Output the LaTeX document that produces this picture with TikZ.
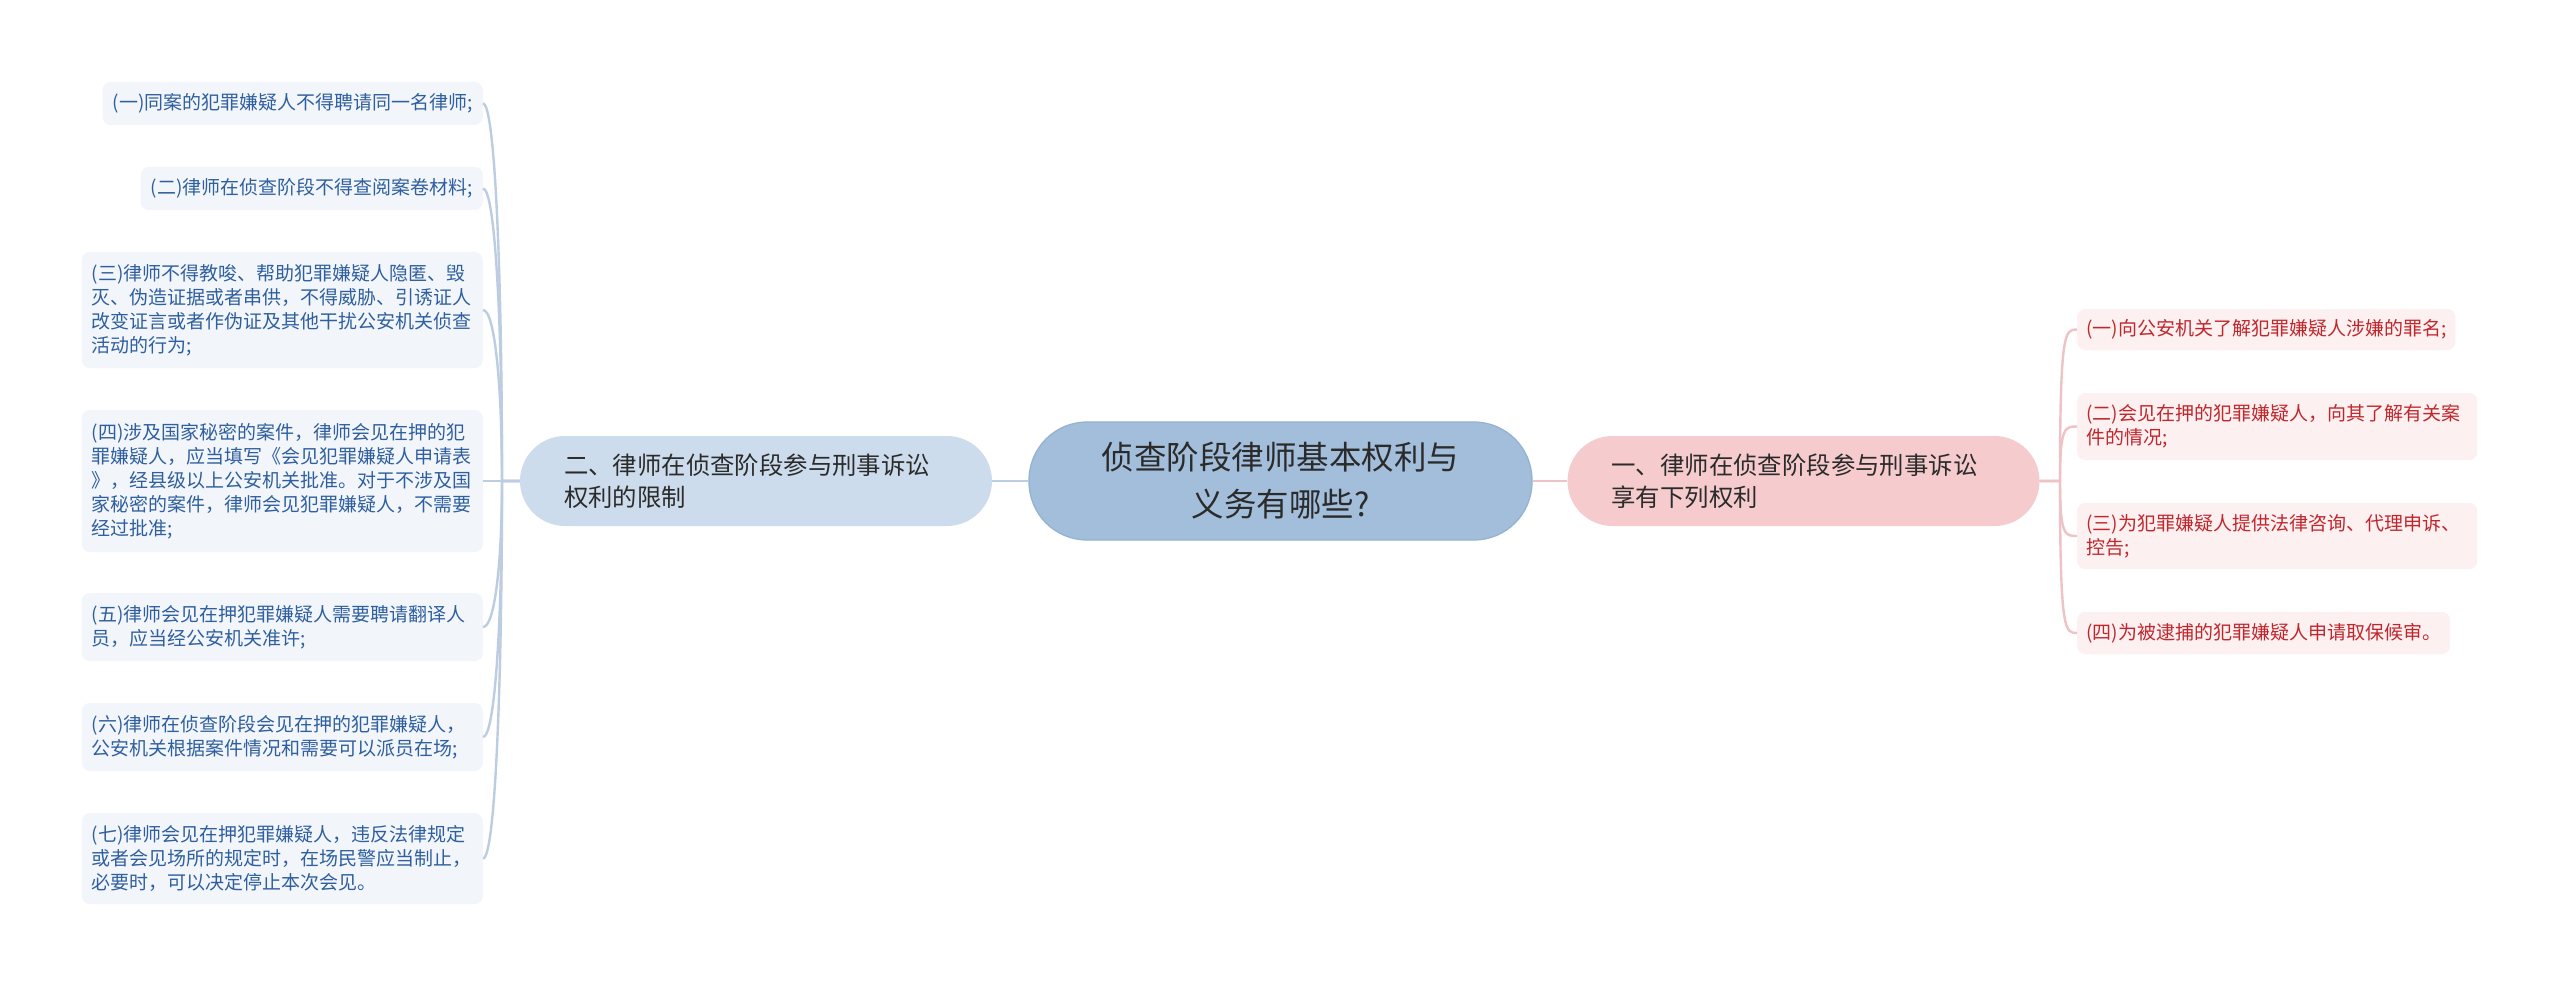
\documentclass[tikz,border=0pt]{standalone}
\usepackage{fontspec}
\setmainfont{Noto Sans CJK SC}
\usetikzlibrary{calc}
\definecolor{lleaffill}{HTML}{F2F6FB}
\definecolor{lleaftext}{HTML}{2F5F9E}
\definecolor{rleaffill}{HTML}{FCF0F0}
\definecolor{rleaftext}{HTML}{BF272D}
\definecolor{lmidfill}{HTML}{CCDCEC}
\definecolor{rmidfill}{HTML}{F5CBCD}
\definecolor{ctrfill}{HTML}{A2BEDA}
\definecolor{ctrdraw}{HTML}{93B1D1}
\definecolor{darktext}{HTML}{2B2B2B}
\definecolor{lline}{HTML}{BDCDE1}
\definecolor{rline}{HTML}{EEC3C6}
\begin{document}
\begin{tikzpicture}[x=1pt,y=-1pt,
  leafL/.style={fill=lleaffill, text=lleaftext, rounded corners=8pt,
    font=\fontsize{19}{24}\selectfont, inner xsep=10pt, inner ysep=0pt, align=left, anchor=east},
  leafR/.style={fill=rleaffill, text=rleaftext, rounded corners=8pt,
    font=\fontsize{19}{24}\selectfont, inner xsep=9pt, inner ysep=0pt, align=left, anchor=west},
  midnode/.style={rounded corners=45pt, minimum height=90pt, inner xsep=44pt, inner ysep=0pt,
    text width=384pt, align=left, font=\fontsize{24.4}{32}\selectfont, text=darktext},
  ctrnode/.style={fill=ctrfill, draw=ctrdraw, line width=1.2pt, rounded corners=58pt,
    minimum width=503pt, minimum height=118pt, align=center, inner sep=0pt,
    font=\fontsize{32.5}{47}\selectfont, text=darktext},
  lconn/.style={draw=lline, line width=2.4pt},
  rconn/.style={draw=rline, line width=2.4pt}
]
\useasboundingbox (0,0) rectangle (2560,987);
\fill[white] (0,0) rectangle (2560,987);

\coordinate (lj) at (502,481);
\coordinate (rj) at (2060,481);

\node[ctrnode] (C) at (1280.5,481) {侦查阶段律师基本权利与\\义务有哪些?};
\node[midnode, fill=lmidfill] (L) at (756,481) {二、律师在侦查阶段参与刑事诉讼\\权利的限制};
\node[midnode, fill=rmidfill] (R) at (1803.5,481) {一、律师在侦查阶段参与刑事诉讼\\享有下列权利};

\node[leafL, minimum height=43pt] (L1) at (483,103.5) {(一)同案的犯罪嫌疑人不得聘请同一名律师;};
\node[leafL, minimum height=43pt] (L2) at (483,188.5) {(二)律师在侦查阶段不得查阅案卷材料;};
\node[leafL, minimum height=116pt, text width=381pt] (L3) at (483,310) {(三)律师不得教唆、帮助犯罪嫌疑人隐匿、毁\\灭、伪造证据或者串供，不得威胁、引诱证人\\改变证言或者作伪证及其他干扰公安机关侦查\\活动的行为;};
\node[leafL, minimum height=142pt, text width=381pt] (L4) at (483,481) {(四)涉及国家秘密的案件，律师会见在押的犯\\罪嫌疑人，应当填写《会见犯罪嫌疑人申请表\\》，经县级以上公安机关批准。对于不涉及国\\家秘密的案件，律师会见犯罪嫌疑人，不需要\\经过批准;};
\node[leafL, minimum height=68pt, text width=381pt] (L5) at (483,627) {(五)律师会见在押犯罪嫌疑人需要聘请翻译人\\员，应当经公安机关准许;};
\node[leafL, minimum height=68pt, text width=381pt] (L6) at (483,737) {(六)律师在侦查阶段会见在押的犯罪嫌疑人，\\公安机关根据案件情况和需要可以派员在场;};
\node[leafL, minimum height=91pt, text width=381pt] (L7) at (483,858.5) {(七)律师会见在押犯罪嫌疑人，违反法律规定\\或者会见场所的规定时，在场民警应当制止，\\必要时，可以决定停止本次会见。};

\node[leafR, minimum height=41pt] (R1) at (2077,329.5) {(一)向公安机关了解犯罪嫌疑人涉嫌的罪名;};
\node[leafR, minimum height=67pt, text width=382pt] (R2) at (2077,426.5) {(二)会见在押的犯罪嫌疑人，向其了解有关案\\件的情况;};
\node[leafR, minimum height=66pt, text width=382pt] (R3) at (2077,536) {(三)为犯罪嫌疑人提供法律咨询、代理申诉、\\控告;};
\node[leafR, minimum height=42pt] (R4) at (2077,633) {(四)为被逮捕的犯罪嫌疑人申请取保候审。};

\draw[lconn] (C.west) -- (L.east);
\draw[rconn] (C.east) -- (R.west);

\foreach \n in {L1,L2,L3,L4,L5,L6,L7}{
  \draw[lconn] (L.west) -- (lj) .. controls ($(lj)!0.55!(\n.east -| lj)$) and ($(\n.east)+(12,0)$) .. (\n.east);
}
\foreach \n in {R1,R2,R3,R4}{
  \draw[rconn] (R.east) -- (rj) .. controls (\n.west -| rj) and ($(\n.west)+(-12,0)$) .. (\n.west);
}
\end{tikzpicture}
\end{document}
